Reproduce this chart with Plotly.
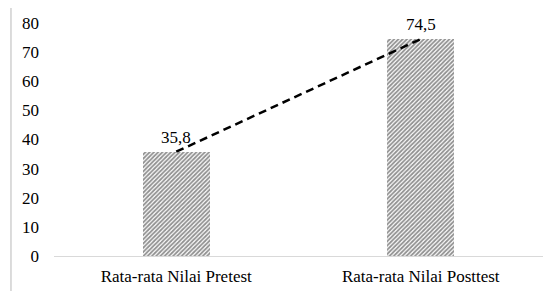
import plotly.graph_objects as go

categories = ["Rata-rata Nilai Pretest", "Rata-rata Nilai Posttest"]
values = [35.8, 74.5]
value_labels = ["35,8", "74,5"]
y_ticks = [0, 10, 20, 30, 40, 50, 60, 70, 80]

font_family = "Liberation Serif"

fig = go.Figure()
fig.add_trace(go.Bar(
    x=categories, y=values,
    width=0.275,
    marker=dict(color="white", line=dict(width=0),
                pattern=dict(shape="/", size=3, solidity=0.6,
                             fgcolor="#222222", bgcolor="white")),
    showlegend=False,
))
fig.add_trace(go.Scatter(
    x=categories, y=values, mode="lines",
    line=dict(color="black", width=2.5, dash="8px,5px"),
    showlegend=False,
))

annotations = [
    dict(x=c, y=v, text=t, xref="x", yref="y", showarrow=False,
         yanchor="bottom", yshift=3,
         font=dict(family=font_family, size=17, color="#000"))
    for c, v, t in zip(categories, values, value_labels)
]

fig.update_layout(
    width=550, height=283,
    margin=dict(l=46, r=15, t=15, b=35, autoexpand=False),
    paper_bgcolor="white", plot_bgcolor="white",
    font=dict(family=font_family, size=17, color="#000"),
    annotations=annotations,
    shapes=[dict(type="line", xref="paper", yref="paper", x0=-0.088, x1=-0.088,
                 y0=-0.16, y1=1.07, line=dict(color="#d0d0d0", width=1.5))],
    xaxis=dict(showline=True, linecolor="#d9d9d9", linewidth=1, ticks="",
               tickfont=dict(family=font_family, size=17, color="#000"),
               ticklabelstandoff=5,
               showgrid=False, automargin=False),
    yaxis=dict(range=[0, 80], showgrid=False, zeroline=False, showline=False,
               tickvals=y_ticks, ticks="", ticklabelstandoff=14,
               tickfont=dict(family=font_family, size=17, color="#000"),
               automargin=False),
    bargap=0,
)

fig.write_html("out.html")
